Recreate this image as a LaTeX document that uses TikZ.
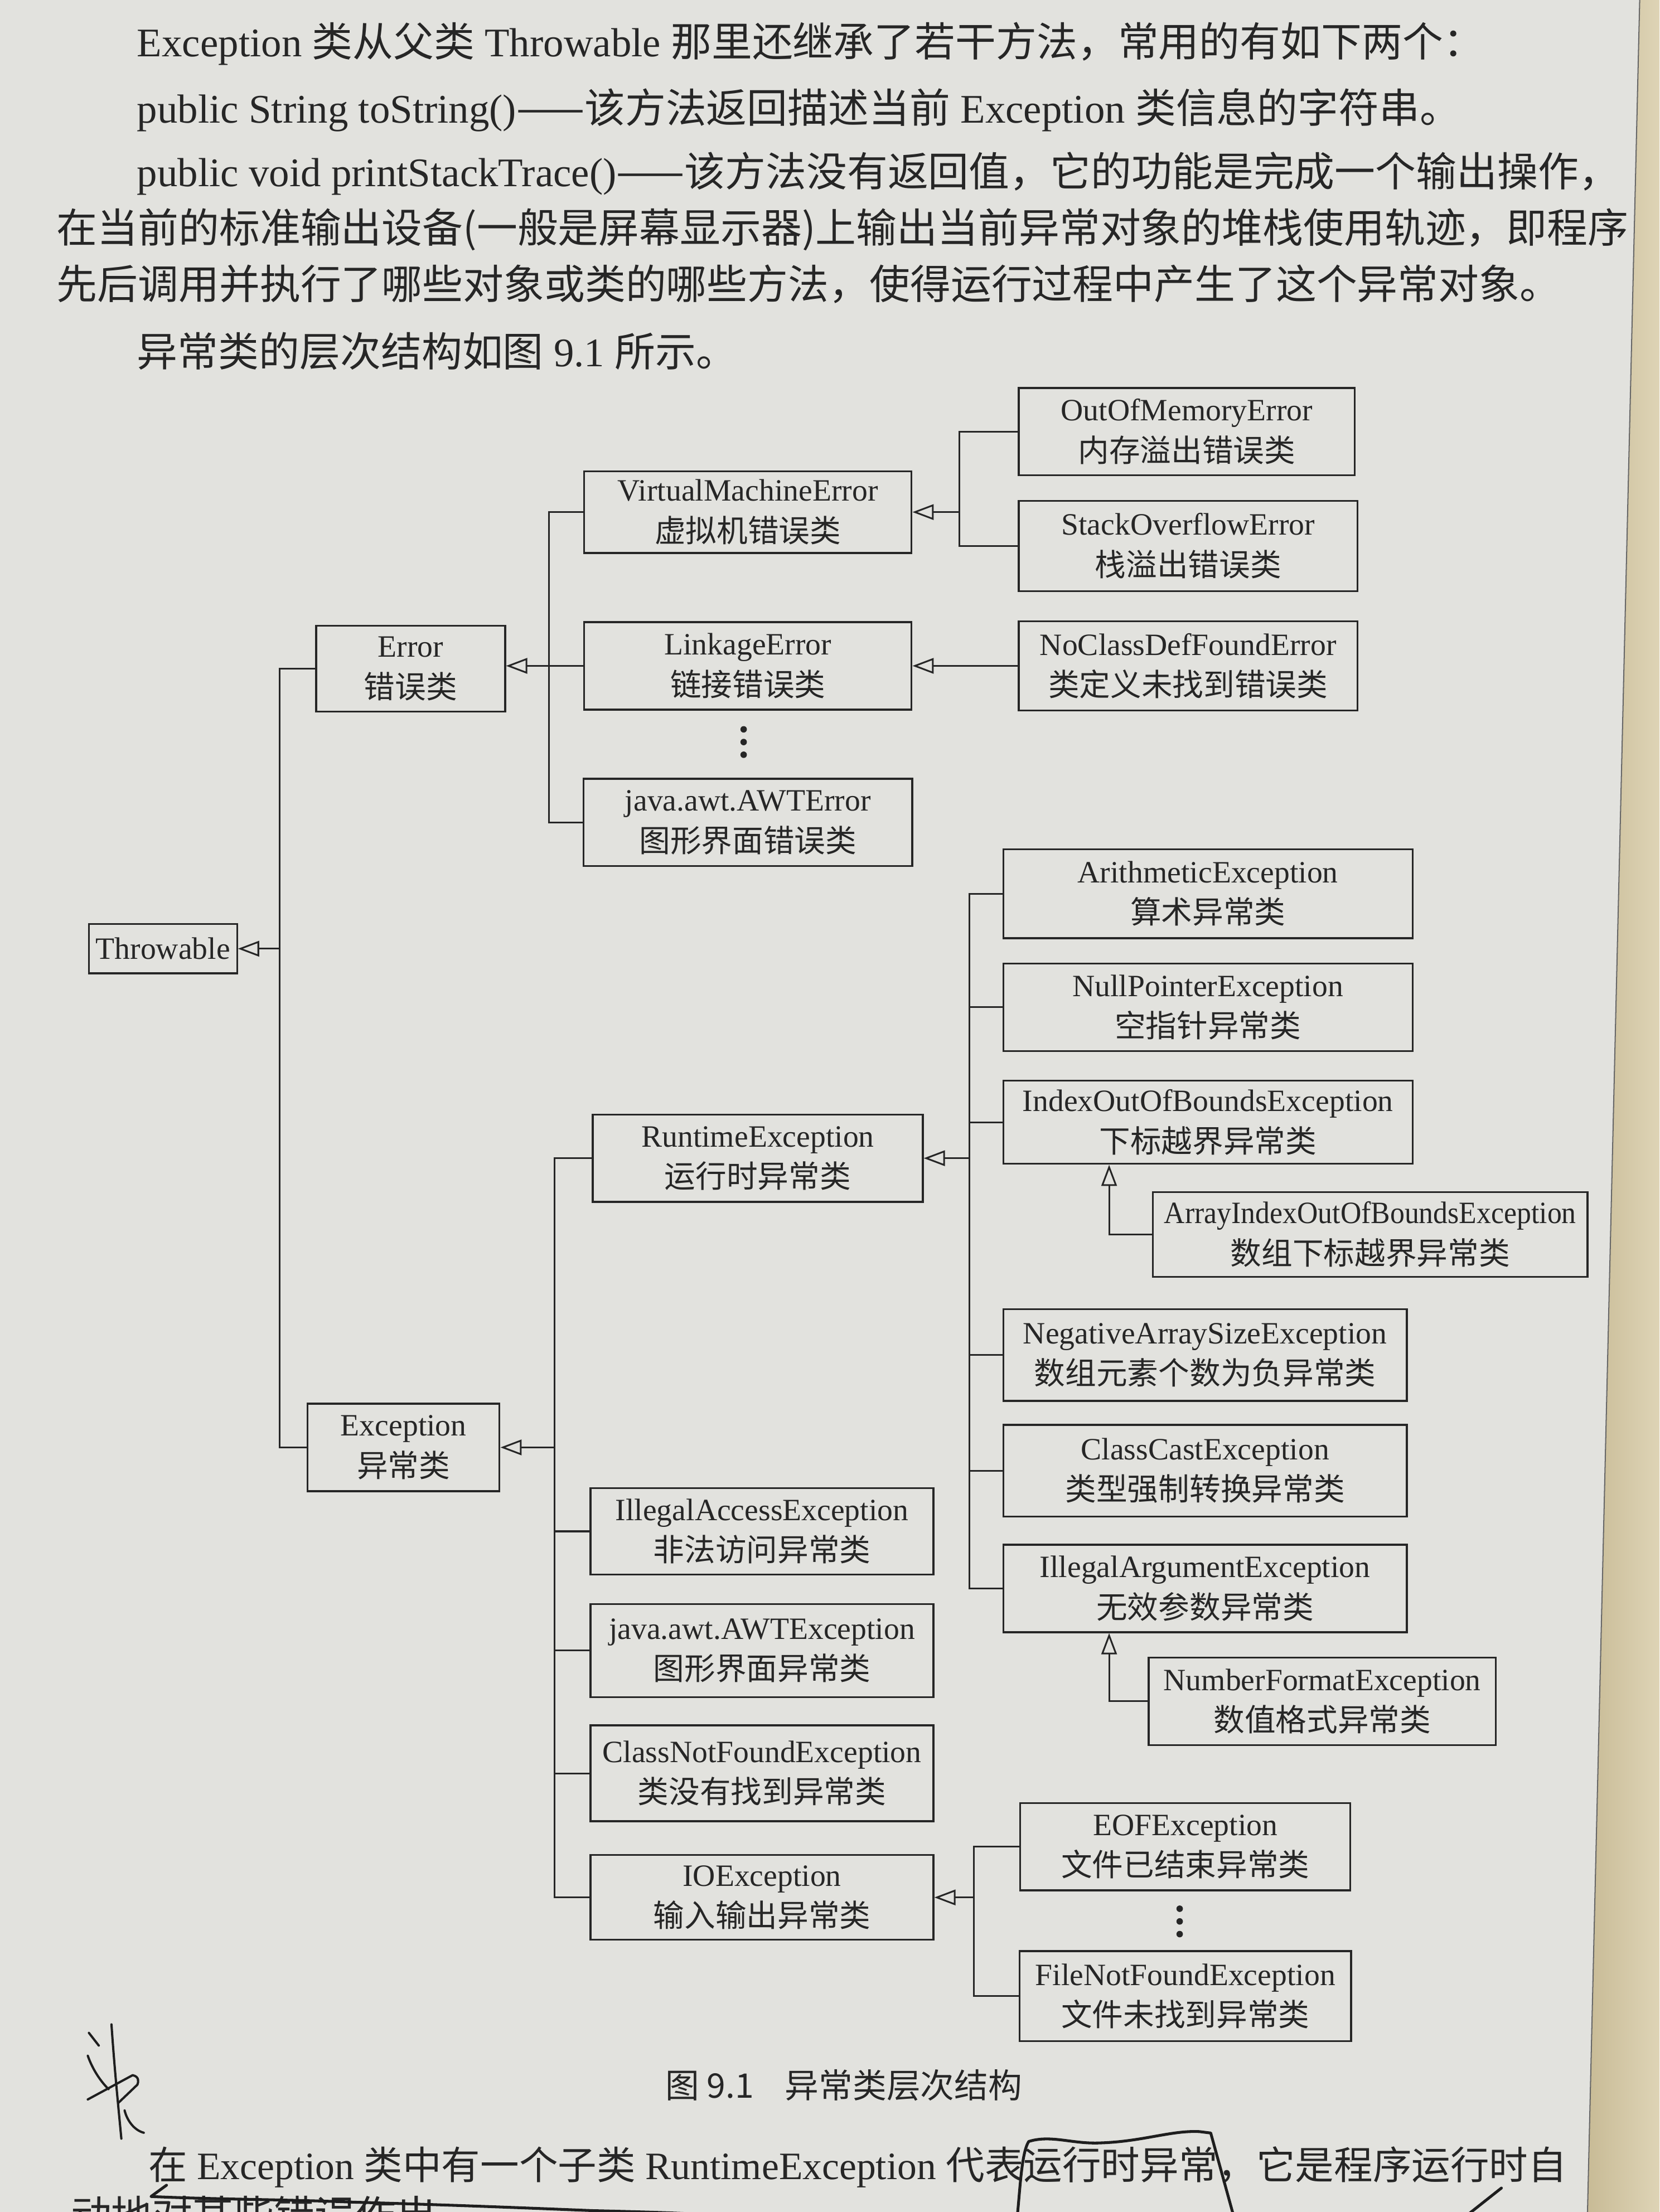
\documentclass[tikz,border=0pt]{standalone}
\usepackage{fontspec}
\setmainfont{Liberation Serif}
\newfontfamily\cjkf{Noto Sans CJK SC}
\newcommand{\zhc}[1]{{\cjkf #1}}
\usetikzlibrary{arrows.meta}
\definecolor{ink}{RGB}{38,38,38}
\definecolor{pen}{RGB}{30,30,30}
\definecolor{paper}{RGB}{226,226,222}
\definecolor{edgecol}{RGB}{200,187,150}
\definecolor{edgelight}{RGB}{222,212,182}
\begin{document}
\begin{tikzpicture}[x=1pt,y=-1pt,
  para/.style={anchor=base west, inner sep=0pt, text=ink, font=\fontsize{28.8}{34}\selectfont},
  cls/.style={draw=ink, line width=1.3pt, align=center, inner sep=0pt, text=ink,
              font=\fontsize{22}{29}\selectfont},
  wire/.style={draw=ink, line width=1.2pt},
  inh/.style={draw=ink, line width=1.2pt, -{Triangle[open, length=15pt, width=11pt, line width=1.2pt]}},
  penline/.style={draw=pen, line width=2pt, line cap=round, line join=round},
  handw/.style={draw=pen, line width=1.6pt, line cap=round, line join=round}
]
\useasboundingbox (0,0) rectangle (1176,1568);
\fill[paper] (0,0) rectangle (1176,1568);
\shade[left color=edgecol, right color=edgelight] (1125,0) rectangle (1176,1568);
\fill[paper] (0,0) -- (1162,0) -- (1125,1568) -- (0,1568) -- cycle;
\draw[ink!70, line width=0.8pt] (1162,0) -- (1125,1568);
\clip (0,0) rectangle (1176,1568);

% ---------------- text above ----------------
\node[para] (p1) at (97,40) {Exception \zhc{类从父类} Throwable \zhc{那里还继承了若干方法，常用的有如下两个：}};
\node[para] (p2) at (97,87) {public String toString()\zhc{——该方法返回描述当前} Exception \zhc{类信息的字符串。}};
\node[para] (p3) at (97,132) {public void printStackTrace()\zhc{——该方法没有返回值，它的功能是完成一个输出操作，}};
\node[para] (p4) at (40,172) {\zhc{在当前的标准输出设备(一般是屏幕显示器)上输出当前异常对象的堆栈使用轨迹，即程序}};
\node[para] (p5) at (40,212) {\zhc{先后调用并执行了哪些对象或类的哪些方法，使得运行过程中产生了这个异常对象。}};
\node[para] (p6) at (97,260) {\zhc{异常类的层次结构如图} 9.1 \zhc{所示。}};

% ---------------- class boxes ----------------
\node[cls, minimum width=105pt, minimum height=35pt] (thr) at (115.5,672.5) {Throwable};
\node[cls, minimum width=134pt, minimum height=61pt] (err) at (291,474) {Error\\\zhc{错误类}};
\node[cls, minimum width=136pt, minimum height=62pt] (exc) at (286,1026) {Exception\\\zhc{异常类}};

\node[cls, minimum width=232pt, minimum height=58pt] (vme) at (530,363) {VirtualMachineError\\\zhc{虚拟机错误类}};
\node[cls, minimum width=232pt, minimum height=62pt] (lnk) at (530,472) {LinkageError\\\zhc{链接错误类}};
\node[cls, minimum width=233pt, minimum height=62pt] (awe) at (530,583) {java.awt.AWTError\\\zhc{图形界面错误类}};

\node[cls, minimum width=238pt, minimum height=62pt] (oom) at (841,306) {OutOfMemoryError\\\zhc{内存溢出错误类}};
\node[cls, minimum width=240pt, minimum height=64pt] (soe) at (842,387) {StackOverflowError\\\zhc{栈溢出错误类}};
\node[cls, minimum width=240pt, minimum height=63pt] (ncd) at (842,472) {NoClassDefFoundError\\\zhc{类定义未找到错误类}};

\node[cls, minimum width=234pt, minimum height=62pt] (rte) at (537,821) {RuntimeException\\\zhc{运行时异常类}};
\node[cls, minimum width=243pt, minimum height=61pt] (iae) at (540,1085.5) {IllegalAccessException\\\zhc{非法访问异常类}};
\node[cls, minimum width=243pt, minimum height=66pt] (awx) at (540,1170) {java.awt.AWTException\\\zhc{图形界面异常类}};
\node[cls, minimum width=243pt, minimum height=68pt] (cnf) at (540,1257) {ClassNotFoundException\\\zhc{类没有找到异常类}};
\node[cls, minimum width=243pt, minimum height=60pt] (ioe) at (540,1345) {IOException\\\zhc{输入输出异常类}};

\node[cls, minimum width=290pt, minimum height=63pt] (ari) at (856,633.5) {ArithmeticException\\\zhc{算术异常类}};
\node[cls, minimum width=290pt, minimum height=62pt] (npe) at (856,714) {NullPointerException\\\zhc{空指针异常类}};
\node[cls, minimum width=290pt, minimum height=59pt] (iob) at (856,795.5) {IndexOutOfBoundsException\\\zhc{下标越界异常类}};
\node[cls, minimum width=308pt, minimum height=60pt] (aio) at (971,875) {\scalebox{0.93}[1]{ArrayIndexOutOfBoundsException}\\\zhc{数组下标越界异常类}};
\node[cls, minimum width=286pt, minimum height=65pt] (nas) at (854,960.5) {NegativeArraySizeException\\\zhc{数组元素个数为负异常类}};
\node[cls, minimum width=286pt, minimum height=65pt] (cce) at (854,1042.5) {ClassCastException\\\zhc{类型强制转换异常类}};
\node[cls, minimum width=286pt, minimum height=62pt] (ila) at (854,1126) {IllegalArgumentException\\\zhc{无效参数异常类}};
\node[cls, minimum width=246pt, minimum height=62pt] (nfe) at (937,1206) {NumberFormatException\\\zhc{数值格式异常类}};

\node[cls, minimum width=234pt, minimum height=62pt] (eof) at (840,1309) {EOFException\\\zhc{文件已结束异常类}};
\node[cls, minimum width=235pt, minimum height=64pt] (fnf) at (840,1415) {FileNotFoundException\\\zhc{文件未找到异常类}};

% ---------------- continuation dots ----------------
\foreach \yy in {517,526,535} \fill[ink] (527,\yy) circle (2.3pt);
\foreach \yy in {1353,1362,1371} \fill[ink] (836,\yy) circle (2.3pt);

% ---------------- connectors ----------------
\coordinate (t1) at (198,672.5);
\draw[wire] (err.west) -| (t1);
\draw[wire] (exc.west) -| (t1);
\draw[inh] (t1) -- (thr.east);

\coordinate (e1) at (389,472);
\draw[wire] (vme.west) -| (e1);
\draw[wire] (awe.west) -| (e1);
\draw[inh] (lnk.west) -- (err.east |- lnk.west);

\coordinate (v1) at (680,363);
\draw[wire] (oom.west) -| (v1);
\draw[wire] (soe.west) -| (v1);
\draw[inh] (v1) -- (vme.east);
\draw[inh] (ncd.west) -- (lnk.east);

\coordinate (x1) at (393,1026);
\draw[wire] (rte.west) -| (x1);
\draw[wire] (iae.west) -| (x1);
\draw[wire] (awx.west) -| (x1);
\draw[wire] (cnf.west) -| (x1);
\draw[wire] (ioe.west) -| (x1);
\draw[inh] (x1) -- (exc.east);

\coordinate (r1) at (687,821);
\draw[wire] (ari.west) -| (r1);
\draw[wire] (npe.west) -| (r1);
\draw[wire] (iob.west) -| (r1);
\draw[wire] (nas.west) -| (r1);
\draw[wire] (cce.west) -| (r1);
\draw[wire] (ila.west) -| (r1);
\draw[inh] (r1) -- (rte.east);

\coordinate (ax) at (786,0);
\draw[inh] (aio.west) -| (iob.south -| ax);
\draw[inh] (nfe.west) -| (ila.south -| ax);

\coordinate (i1) at (690,1345);
\draw[wire] (eof.west) -| (i1);
\draw[wire] (fnf.west) -| (i1);
\draw[inh] (i1) -- (ioe.east);

% ---------------- caption ----------------
\node[anchor=base, inner sep=0pt, text=ink, font=\fontsize{24}{28}\selectfont] (cap) at (598,1487)
  {\zhc{图 9.1\hspace{22pt}异常类层次结构}};

% ---------------- text below ----------------
\node[para, font=\fontsize{27.5}{33}\selectfont] (b1) at (105,1545)
  {\zhc{在} Exception \zhc{类中有一个子类} RuntimeException \zhc{代表运行时异常，它是程序运行时自}};
\node[para] (b2) at (50,1581) {\zhc{动地对某些错误作出}};

% ---------------- pen marks ----------------
\draw[penline] (118,1549) -- (107,1557)
  .. controls (150,1559) and (200,1559) .. (250,1561)
  .. controls (320,1563) and (370,1565) .. (420,1567)
  .. controls (460,1568) and (500,1569) .. (530,1572);
\draw[penline] (721,1570) .. controls (723,1550) and (724,1526) .. (729,1518)
  .. controls (745,1513) and (760,1520) .. (780,1519)
  .. controls (810,1518) and (830,1510) .. (850,1511)
  -- (858,1512) -- (874,1570);
\draw[penline] (1040,1570) -- (1064,1551);
\draw[handw] (63,1441) -- (70,1450);
\draw[handw] (79,1435) .. controls (81,1465) and (84,1495) .. (86,1516);
\draw[handw] (62.2,1457.2) .. controls (66,1468) and (72,1476) .. (76.9,1480.9);
\draw[handw] (62.2,1488.2) -- (94,1471) .. controls (99,1472) and (98,1476) .. (97.4,1477.7) -- (83.7,1490.8);
\draw[handw] (88.3,1496) .. controls (90,1503) and (95,1510) .. (101.9,1511.8);
\end{tikzpicture}
\end{document}
